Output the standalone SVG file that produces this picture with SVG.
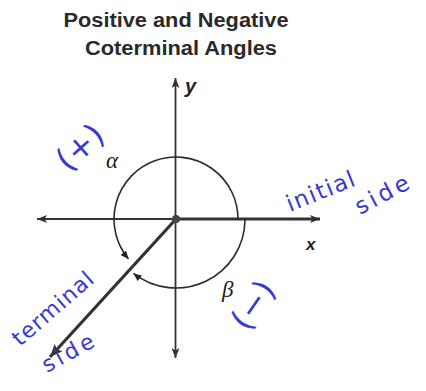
<svg xmlns="http://www.w3.org/2000/svg" width="426" height="391" viewBox="0 0 426 391">
<style>
.title{font-family:"Liberation Sans",Arial,sans-serif;font-weight:bold;font-size:19.5px;fill:#2a2a2a}
.axlab{font-family:"Liberation Sans",Arial,sans-serif;font-weight:bold;font-style:italic;fill:#222}
.greek{font-family:"Liberation Serif","Times New Roman",serif;font-style:italic;font-size:23px;fill:#222}
.hand{font-family:"DejaVu Sans","Liberation Sans",sans-serif;font-weight:normal;fill:#3838d2}
.axis{stroke:#333;fill:none}
.arc{stroke:#2a2a2a;stroke-width:1.6;fill:none}
</style>
<defs>
<marker id="axArrow" markerUnits="userSpaceOnUse" markerWidth="11" markerHeight="8" refX="10" refY="4" orient="auto-start-reverse"><path d="M0,0 L10,4 L0,8 L2.5,4 z" fill="#333"/></marker>
<marker id="arcArrow" markerUnits="userSpaceOnUse" markerWidth="9" markerHeight="7" refX="8" refY="3.5" orient="auto"><path d="M0,0 L8,3.5 L0,7 z" fill="#222"/></marker>
<marker id="termArrow" markerUnits="userSpaceOnUse" markerWidth="14" markerHeight="11" refX="13" refY="5.5" orient="auto"><path d="M0,0 L13,5.5 L0,11 L3,5.5 z" fill="#333"/></marker>
</defs>
<g id="title">
<text class="title" x="176" y="27" text-anchor="middle" textLength="225" lengthAdjust="spacingAndGlyphs">Positive and Negative</text>
<text class="title" x="181" y="55" text-anchor="middle" textLength="192" lengthAdjust="spacingAndGlyphs">Coterminal Angles</text>
</g>
<g id="connectors">
<line id="x-axis-neg" class="axis" x1="176" y1="219" x2="37" y2="219" stroke-width="1.8" marker-end="url(#axArrow)"/>
<line id="x-axis-pos" class="axis" x1="176" y1="219" x2="320" y2="219" stroke-width="2.8" stroke="#555" marker-end="url(#axArrow)"/>
<line id="y-axis" class="axis" x1="175.5" y1="78" x2="175.5" y2="358" stroke-width="1.8" marker-start="url(#axArrow)" marker-end="url(#axArrow)"/>
<line id="terminal" class="axis" x1="176" y1="219" x2="50" y2="357" stroke-width="3.2" marker-end="url(#termArrow)"/>
<path id="alpha-arc" class="arc" d="M238,219 A62,62 0 1 0 128.5,258.9" marker-end="url(#arcArrow)"/>
<path id="beta-arc" class="arc" d="M245,220 A69,69 0 0 1 133.5,273.4" marker-end="url(#arcArrow)"/>
</g>
<g id="origin"><circle cx="176" cy="219" r="4" fill="#444"/></g>
<g id="labels">
<text class="axlab" x="185" y="93" font-size="20">y</text>
<text class="axlab" x="306" y="250" font-size="17">x</text>
<text class="greek" x="106" y="168">α</text>
<text class="greek" x="222" y="297">β</text>
</g>
<g id="annotations">
<text class="hand" font-size="32" text-anchor="middle" dominant-baseline="central" transform="translate(80,147) rotate(-42)">(+)</text>
<text class="hand" font-size="32" text-anchor="middle" dominant-baseline="central" transform="translate(253,305) rotate(-55)">(−)</text>
<text class="hand" font-size="23" textLength="72" transform="translate(290,212) rotate(-22)">initial</text>
<text class="hand" font-size="23" textLength="58" transform="translate(360,215) rotate(-28)">side</text>
<text class="hand" font-size="22" textLength="100" transform="translate(20,347) rotate(-41)">terminal</text>
<text class="hand" font-size="22" textLength="56" transform="translate(47,373) rotate(-29)">side</text>
</g>
</svg>
